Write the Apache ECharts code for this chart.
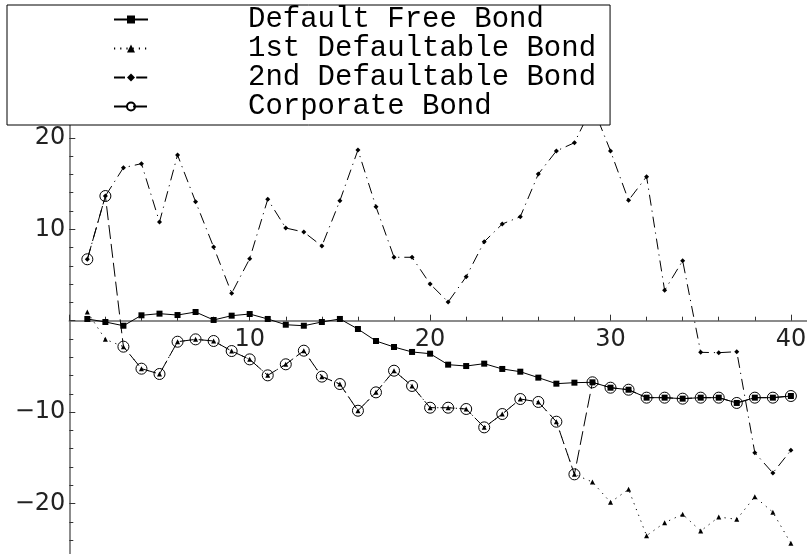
<!DOCTYPE html>
<html>
<head>
<meta charset="utf-8">
<script src="https://cdn.jsdelivr.net/npm/echarts@6/dist/echarts.min.js"></script>
<style>
html,body{margin:0;padding:0;background:#fff;}
#chart{width:807px;height:554px;}
</style>
</head>
<body>
<div id="chart"></div>
<script>
const xs = [1,2,3,4,5,6,7,8,9,10,11,12,13,14,15,16,17,18,19,20,21,22,23,24,25,26,27,28,29,30,31,32,33,34,35,36,37,38,39,40];
const seriesNames = ['Default Free Bond','1st Defaultable Bond','2nd Defaultable Bond','Corporate Bond'];
const defaultFree = [0.19,-0.14,-0.55,0.59,0.77,0.62,0.95,0.08,0.55,0.73,0.19,-0.44,-0.55,-0.14,0.19,-0.91,-2.22,-2.88,-3.42,-3.61,-4.81,-4.96,-4.70,-5.28,-5.58,-6.23,-6.89,-6.78,-6.74,-7.33,-7.55,-8.42,-8.42,-8.53,-8.42,-8.42,-9.0,-8.42,-8.42,-8.24];
const firstDefaultable = [0.95,-2.04,-2.84,-5.25,-5.83,-2.30,-2.04,-2.22,-3.32,-4.23,-5.98,-4.77,-3.28,-6.12,-6.93,-9.85,-7.84,-5.47,-7.14,-9.52,-9.52,-9.66,-11.67,-10.21,-8.57,-8.89,-11.05,-16.81,-17.65,-19.87,-18.45,-23.52,-22.10,-21.18,-23.01,-21.48,-21.73,-19.26,-20.96,-24.36];
const secondDefaultable = [6.72,13.64,16.74,17.18,10.80,18.13,13.02,8.06,3.0,6.78,13.28,10.14,9.70,8.17,13.13,18.68,12.47,6.94,6.94,4.02,2.05,4.81,8.64,10.58,11.38,16.05,18.57,19.47,23.5,18.57,13.17,15.76,3.32,6.56,-3.46,-3.5,-3.39,-14.44,-16.66,-14.18];
const corporate = [6.72,13.64,-2.84,-5.25,-5.83,-2.30,-2.04,-2.22,-3.32,-4.23,-5.98,-4.77,-3.28,-6.12,-6.93,-9.85,-7.84,-5.47,-7.14,-9.52,-9.52,-9.66,-11.67,-10.21,-8.57,-8.89,-11.05,-16.81,-6.74,-7.33,-7.55,-8.42,-8.42,-8.53,-8.42,-8.42,-9.0,-8.42,-8.42,-8.24];
const xTickLabels = [10,20,30,40];
const yTickLabels = [-20,-10,10,20];

const pairs = arr => xs.map((x,i)=>[x,arr[i]]);
const chart = echarts.init(document.getElementById('chart'), null, {renderer:'canvas'});
const tickCommon = {
  axisTick:{show:true,inside:true,length:6,lineStyle:{color:'#333',width:1}},
  minorTick:{show:true,splitNumber:5,length:4,lineStyle:{color:'#333',width:1}},
  splitLine:{show:false},
  minorSplitLine:{show:false}
};
chart.setOption({
  animation:false,
  backgroundColor:'#fff',
  grid:{left:69.3,right:-164.3,top:46.5,bottom:-40.9,containLabel:false,outerBoundsMode:'none'},
  xAxis:Object.assign({type:'value',min:0,max:50,interval:10,position:'bottom',offset:-274.2,
    axisLine:{show:true,onZero:false,lineStyle:{color:'#666',width:1.5}},
    axisLabel:{fontFamily:'DejaVu Sans',fontSize:24,color:'#222',margin:7,
      formatter:v=>xTickLabels.indexOf(v)>=0?String(v):''}},tickCommon),
  yAxis:Object.assign({type:'value',min:-30,max:30,interval:10,
    axisLine:{show:true,onZero:false,lineStyle:{color:'#666',width:1.5}},
    axisLabel:{fontFamily:'DejaVu Sans',fontSize:24,color:'#222',margin:4,
      formatter:v=>yTickLabels.indexOf(v)>=0?(v<0?'\u2212'+Math.abs(v):String(v)):''}},tickCommon),
  legend:{
    orient:'vertical',left:7,top:5,
    padding:[0,14,4,106],
    itemWidth:34,itemHeight:10,itemGap:0,
    backgroundColor:'#fff',borderColor:'#000',borderWidth:1,
    textStyle:{fontFamily:'Liberation Mono',fontSize:29,color:'#000',lineHeight:29,padding:[0,0,0,95]},
    data:seriesNames
  },
  series:[
    {name:seriesNames[0],type:'line',data:pairs(defaultFree),symbol:'rect',symbolSize:6,showAllSymbol:true,
      lineStyle:{color:'#000',width:1,type:'solid'},itemStyle:{color:'#000'},z:3},
    {name:seriesNames[1],type:'line',data:pairs(firstDefaultable),symbol:'triangle',symbolSize:5,showAllSymbol:true,
      lineStyle:{color:'#000',width:1,type:[1.2,5]},itemStyle:{color:'#000'},z:3},
    {name:seriesNames[2],type:'line',data:pairs(secondDefaultable),symbol:'diamond',symbolSize:5,showAllSymbol:true,
      lineStyle:{color:'#000',width:1,type:[11,5,1.2,5]},itemStyle:{color:'#000'},z:3},
    {name:seriesNames[3],type:'line',data:pairs(corporate),symbol:'circle',symbolSize:11,showAllSymbol:true,
      lineStyle:{color:'#000',width:1,type:[14,5]},itemStyle:{color:'rgba(255,255,255,0)',borderColor:'#000',borderWidth:1},z:3}
  ]
});
</script>
</body>
</html>
